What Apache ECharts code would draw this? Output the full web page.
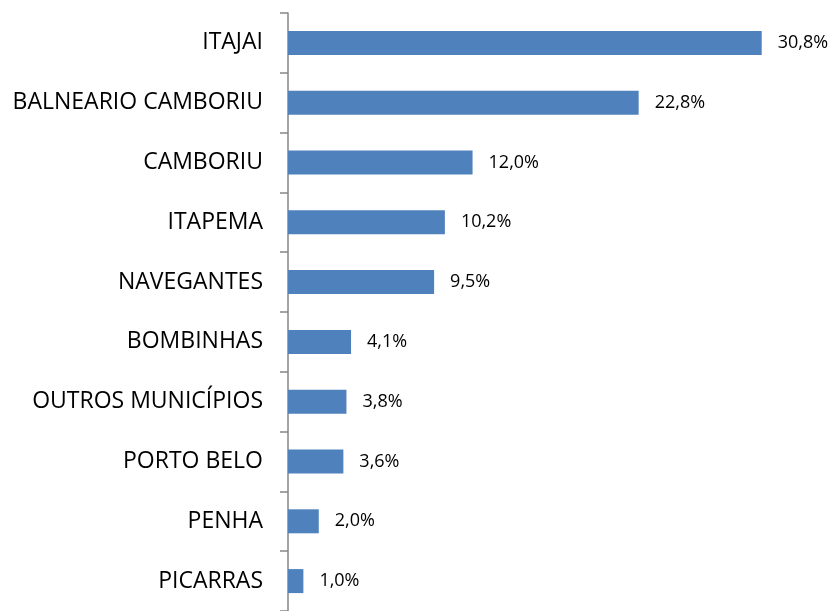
<!DOCTYPE html>
<html><head><meta charset="utf-8">
<script src="https://cdn.jsdelivr.net/npm/echarts@6/dist/echarts.min.js"></script>
<style>html,body{margin:0;padding:0;background:#fff}#c{width:833px;height:611px}</style>
</head><body><div id="c"></div>
<script>
const categories = ["ITAJAI","BALNEARIO CAMBORIU","CAMBORIU","ITAPEMA","NAVEGANTES","BOMBINHAS","OUTROS MUNICÍPIOS","PORTO BELO","PENHA","PICARRAS"];
const values = [30.8,22.8,12.0,10.2,9.5,4.1,3.8,3.6,2.0,1.0];
const chart = echarts.init(document.getElementById('c'));
chart.setOption({
  animation:false,
  grid:{left:288,top:13,width:538.3,height:602,containLabel:false},
  xAxis:{type:'value',min:0,max:35,show:false},
  yAxis:{type:'category',data:categories,inverse:true,
    axisLine:{lineStyle:{color:'#868686',width:1.5}},
    axisTick:{show:true,length:8,lineStyle:{color:'#868686',width:1.5}},
    axisLabel:{margin:25,fontFamily:'Open Sans',fontSize:23,color:'#000'}},
  series:[{type:'bar',data:values,barWidth:24,
    itemStyle:{color:'#4F81BD'},
    label:{show:true,position:'right',distance:16,fontFamily:'Open Sans',fontSize:18,color:'#000',
      formatter:p=>p.value.toFixed(1).replace('.',',')+'%'}}]
});
</script></body></html>
